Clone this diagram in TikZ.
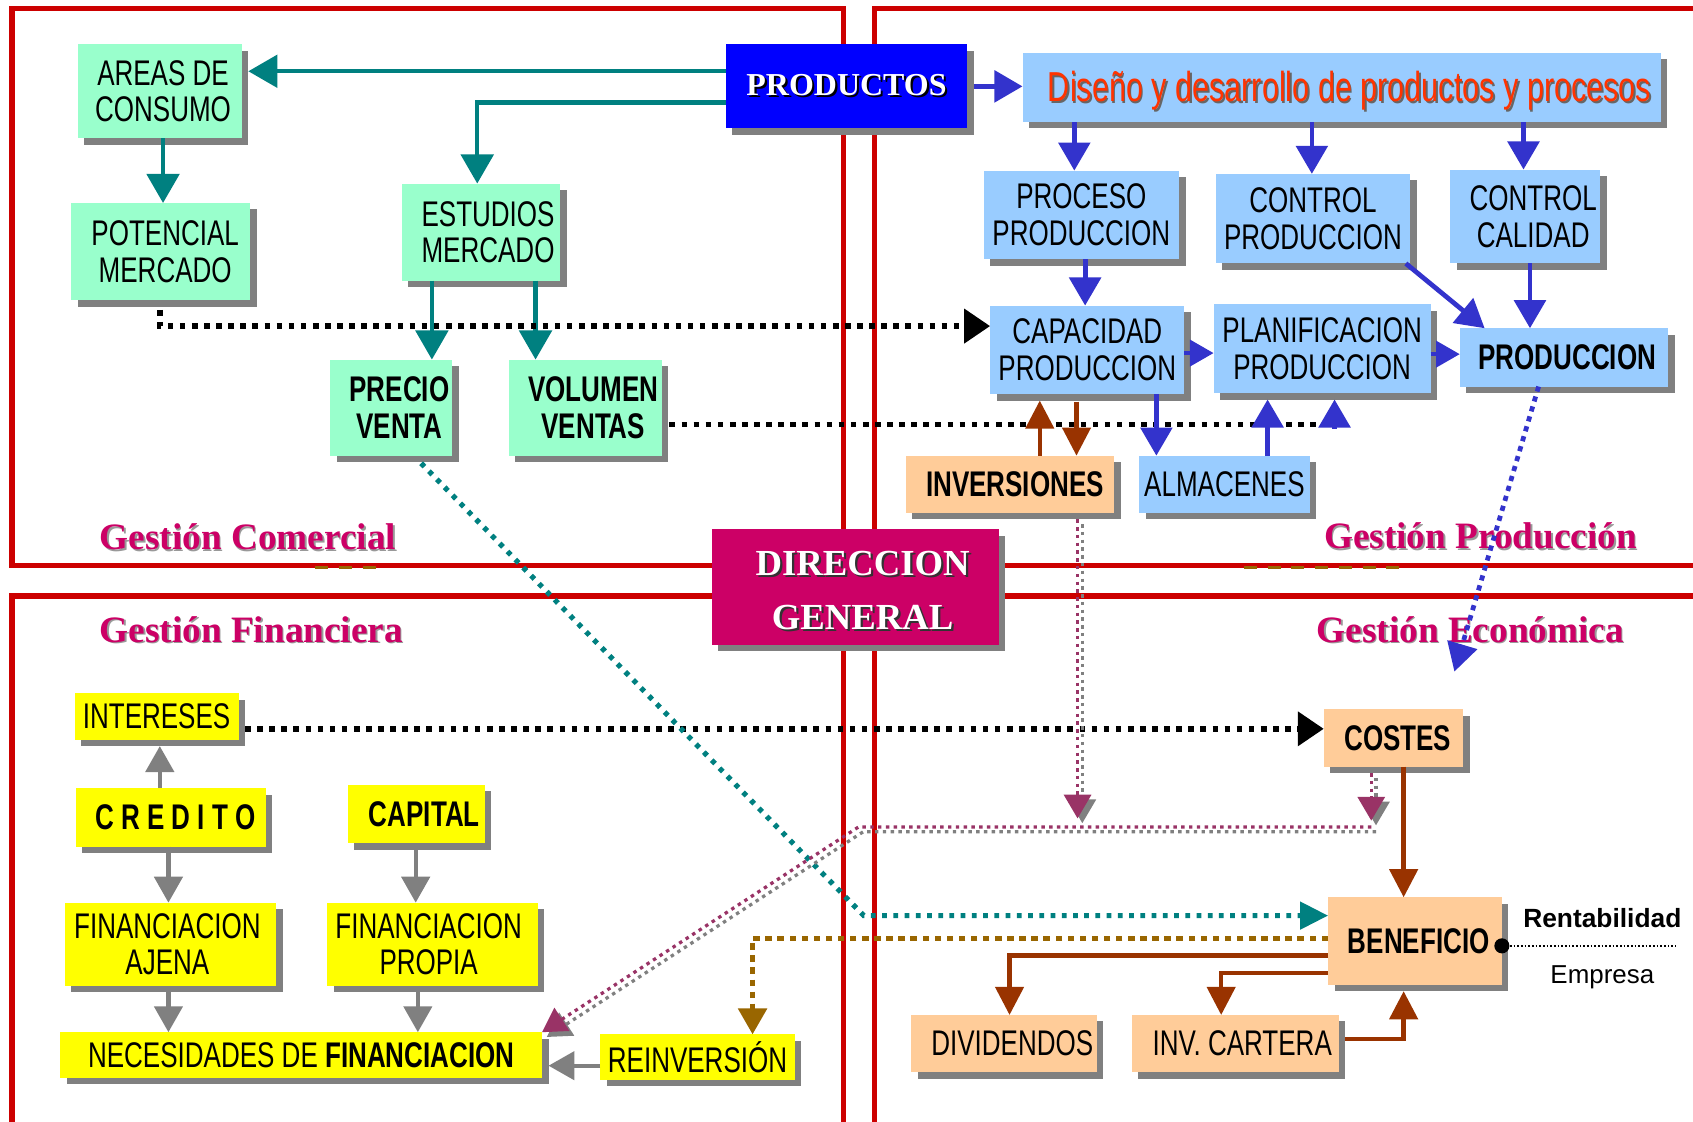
\documentclass[tikz,border=0pt]{standalone}
\usepackage{fontspec}
\setmainfont{Liberation Sans}[FakeStretch=0.73]
\newfontfamily\plainsans{Liberation Sans}
\newfontfamily\titleserif{Liberation Serif}
\usetikzlibrary{arrows.meta,shadows,fit,calc}

\definecolor{framered}{HTML}{CC0000}
\definecolor{mint}{HTML}{99FFCC}
\definecolor{skyblue}{HTML}{99CCFF}
\definecolor{peach}{HTML}{FFCC99}
\definecolor{lemon}{HTML}{FFFF00}
\definecolor{shadowgray}{HTML}{808080}
\definecolor{tealc}{HTML}{008080}
\definecolor{flowblue}{HTML}{3333CC}
\definecolor{rust}{HTML}{993300}
\definecolor{ochre}{HTML}{996600}
\definecolor{plum}{HTML}{993366}
\definecolor{rosered}{HTML}{CC0066}
\definecolor{pureblue}{HTML}{0000FF}
\definecolor{designred}{HTML}{FF3300}

\newcommand\bxfont{\fontsize{16.5}{17}\selectfont}
% text with a small offset shadow underneath
\newcommand\shadowed[3][0.8pt]{\leavevmode\rlap{\kern#1\raisebox{-#1}{\textcolor{#2}{#3}}}#3}
% box spanning two corners, with its text placed (and nudged) separately
\newcommand\mkbox[6][0pt]{%
  \node[#2, fit={#4 #5}] (#3) {};
  \node[boxtext] (#3-text) at ([xshift=#1]#3.center) {#6};}

\tikzset{
  x=0.5pt, y=-0.5pt,
  box/.style={inner sep=0pt, outer sep=0pt,
    drop shadow={opacity=1, fill=shadowgray, shadow xshift=3pt, shadow yshift=-3pt}},
  greenbox/.style={box, fill=mint},
  bluebox/.style={box, fill=skyblue},
  peachbox/.style={box, fill=peach},
  yellowbox/.style={box, fill=lemon},
  boxtext/.style={inner sep=0pt, align=center, font=\bxfont, text=black},
  seclabel/.style={inner sep=0pt, anchor=base west, text=rosered,
    font=\titleserif\bfseries\fontsize{17.25}{20}\selectfont},
  frame/.style={draw=framered, line width=2.5pt},
  ochredash/.style={draw=ochre, line width=1.5pt, dash pattern=on 6pt off 5pt},
  tealarrow/.style={draw=tealc, line width=2pt, -{Triangle[length=13.5pt,width=15pt]}},
  bluearrow/.style={draw=flowblue, line width=2.2pt, -{Triangle[length=13pt,width=14.5pt]}},
  smallblue/.style={draw=flowblue, line width=2pt, -{Triangle[length=11pt,width=12pt]}},
  grayarrow/.style={draw=shadowgray, line width=2pt, -{Triangle[length=12pt,width=13pt]}},
  rustarrow/.style={draw=rust, line width=2pt, -{Triangle[length=13pt,width=13pt]}},
  blackdots/.style={draw=black, line width=2.6pt, dash pattern=on 2.6pt off 3pt},
  blackdotarrow/.style={blackdots, -{Triangle[length=12pt,width=15.5pt]}},
  tealdots/.style={draw=tealc, line width=2.4pt, dash pattern=on 2.2pt off 3pt,
    -{Triangle[length=13pt,width=12.5pt]}},
  ochredots/.style={draw=ochre, line width=2.4pt, dash pattern=on 3pt off 2.6pt,
    -{Triangle[length=12pt,width=13pt]}},
  bluedots/.style={draw=flowblue, line width=2.2pt, dash pattern=on 2.4pt off 2.4pt,
    -{Triangle[length=13pt,width=14pt]}},
  plumdots/.style={draw=plum, line width=1.5pt, dash pattern=on 1.6pt off 2pt,
    -{Triangle[length=11pt,width=12.5pt]},
    preaction={draw=shadowgray, line width=1.5pt, dash pattern=on 1.6pt off 2pt,
      transform canvas={shift={(2.2pt,-2.2pt)}}}},
  thindots/.style={draw=black, line width=0.8pt, dash pattern=on 0.8pt off 0.9pt},
}

\begin{document}
\begin{tikzpicture}
\useasboundingbox (0,0) rectangle (1568,1039);
\fill[white] (0,0) rectangle (1568,1039);

% the four management areas
\begin{scope}
  \clip (0,0) rectangle (1568,1039);
  \draw[frame] (11,8) rectangle (781,524);
  \draw[frame] (810,8) rectangle (1600,524);
  \draw[frame] (11,552) rectangle (781,1070);
  \draw[frame] (810,552) rectangle (1600,1070);
  \draw[ochredash] (292,525.5) -- (352,525.5);
  \draw[ochredash] (1152,525.5) -- (1300,525.5);
\end{scope}

% area titles
\node[seclabel] (lbl-com) at (92,509) {\shadowed[0.7pt]{black!40}{Gestión Comercial}};
\node[seclabel] (lbl-prod) at (1226,508) {\shadowed[0.7pt]{black!40}{Gestión Producción}};
\node[seclabel] (lbl-fin) at (92,595) {\shadowed[0.7pt]{black!40}{Gestión Financiera}};
\node[seclabel] (lbl-eco) at (1219,595) {\shadowed[0.7pt]{black!40}{Gestión Económica}};

% Gestión Comercial
\mkbox[1.5pt]{greenbox}{areas}{(72,41)}{(224,128)}{AREAS DE\\CONSUMO}
\mkbox[2pt]{greenbox}{potencial}{(66,188)}{(232,278)}{POTENCIAL\\MERCADO}
\mkbox[3.25pt]{greenbox}{estudios}{(372,170)}{(519,260)}{ESTUDIOS\\MERCADO}
\mkbox[3.75pt]{greenbox}{precio}{(306,333)}{(419,422)}{\textbf{PRECIO}\\\textbf{VENTA}}
\mkbox[3.75pt]{greenbox}{volumen}{(471,333)}{(613,422)}{\textbf{VOLUMEN}\\\textbf{VENTAS}}

% products and Gestión Producción
\node[box, fill=pureblue, fit={(672,41) (896,119)}] (prod) {};
\node[inner sep=0pt, text=white, font=\titleserif\bfseries\fontsize{14.8}{17}\selectfont]
  (prod-text) at (prod.center) {\shadowed[1pt]{black}{PRODUCTOS}};
\node[bluebox, fit={(947,49) (1538,113)}] (diseno) {};
\node[inner sep=0pt, anchor=base, text=designred, font=\fontsize{19.4}{21}\selectfont]
  (diseno-text) at (1250,94) {\shadowed{black!60}{Diseño y desarrollo de productos y procesos}};
\mkbox{bluebox}{proceso}{(911,158)}{(1092,240)}{PROCESO\\PRODUCCION}
\mkbox{bluebox}{ctrlprod}{(1126,161)}{(1306,244)}{CONTROL\\PRODUCCION}
\mkbox[3.75pt]{bluebox}{ctrlcal}{(1343,157)}{(1482,244)}{CONTROL\\CALIDAD}
\mkbox{bluebox}{capacidad}{(917,283)}{(1097,365)}{CAPACIDAD\\PRODUCCION}
\mkbox{bluebox}{planif}{(1124,282)}{(1325,364)}{PLANIFICACION\\PRODUCCION}
\mkbox[1.5pt]{bluebox}{produccion}{(1352,304)}{(1545,358)}{\textbf{PRODUCCION}}
\mkbox[2.25pt]{peachbox}{inversiones}{(839,422)}{(1032,475)}{\textbf{INVERSIONES}}
\mkbox{bluebox}{almacenes}{(1055,422)}{(1213,475)}{ALMACENES}

% general management
\node[box, fill=rosered, fit={(659,490) (925,597)}] (direccion) {};
\node[inner sep=0pt, align=center, text=white, font=\titleserif\bfseries\fontsize{17}{25}\selectfont]
  (direccion-text) at ([xshift=3.5pt,yshift=-2pt]direccion.center)
  {\shadowed[1pt]{black!80}{DIRECCION}\\\shadowed[1pt]{black!80}{GENERAL}};

% Gestión Financiera
\mkbox{yellowbox}{intereses}{(69,642)}{(221,685)}{INTERESES}
\mkbox[2.25pt]{yellowbox}{credito}{(70,730)}{(246,784)}{\textbf{C R E D I T O}}
\mkbox[3.75pt]{yellowbox}{capital}{(322,727)}{(449,781)}{\textbf{CAPITAL}}
\mkbox[-1.5pt]{yellowbox}{fajena}{(60,836)}{(256,913)}{FINANCIACION\\AJENA}
\mkbox[-1.75pt]{yellowbox}{fpropia}{(303,836)}{(498,913)}{FINANCIACION\\PROPIA}
\mkbox{yellowbox}{necesidades}{(56,956)}{(502,998)}{NECESIDADES DE \textbf{FINANCIACION}}
\mkbox{yellowbox}{reinversion}{(556,958)}{(736,1000)}{REINVERSIÓN}

% Gestión Económica
\mkbox[2pt]{peachbox}{costes}{(1226,657)}{(1355,710)}{\textbf{COSTES}}
\mkbox[1.75pt]{peachbox}{beneficio}{(1230,831)}{(1391,912)}{\textbf{BENEFICIO}}
\mkbox[3.75pt]{peachbox}{dividendos}{(844,940)}{(1016,993)}{DIVIDENDOS}
\mkbox[3.25pt]{peachbox}{invcartera}{(1048,940)}{(1240,993)}{INV. CARTERA}

\node[inner sep=0pt, anchor=base, font=\plainsans\bfseries\fontsize{12.2}{14}\selectfont]
  (rent) at (1484,859) {Rentabilidad};
\node[inner sep=0pt, anchor=base, font=\plainsans\fontsize{12}{14}\selectfont]
  (empresa) at (1484,911) {Empresa};
\node[circle, fill=black, inner sep=0pt, minimum size=7pt] (dot) at (beneficio.east |- 0,876) {};
\coordinate (rentend) at (1552,876);
\draw[thindots] (dot.east) -- (rentend);

% commercial flows
\draw[tealarrow, shorten >=3pt] (prod.west |- 0,66) -- (areas.east |- 0,66);
\draw[tealarrow] (prod.west |- 0,95) -| (estudios.north -| 442,0);
\draw[tealarrow] (areas.south -| 151,0) -- (potencial.north -| 151,0);
\draw[tealarrow] (estudios.south -| 400,0) -- (precio.north -| 400,0);
\draw[tealarrow] (estudios.south -| 496,0) -- (volumen.north -| 496,0);
\draw[blackdotarrow] ($(potencial.south -| 148,0)+(0,9)$) |- (capacidad.west |- 0,302);
\coordinate (vvend) at (1222,393);
\coordinate (vvtip) at (1236,397);
\draw[blackdots] ($(volumen.east |- 0,393)+(7,0)$) -- (vvend);
\draw[bluearrow, shorten >=3pt] (vvtip) -- (vvtip |- planif.south);

% production flows
\draw[bluearrow, shorten <=3pt] (prod.east |- 0,80) -- (diseno.west |- 0,80);
\draw[bluearrow] (diseno.south -| 995,0) -- (proceso.north -| 995,0);
\draw[bluearrow] (diseno.south -| 1215,0) -- (ctrlprod.north -| 1215,0);
\draw[bluearrow] (diseno.south -| 1411,0) -- (ctrlcal.north -| 1411,0);
\draw[bluearrow] (proceso.south -| 1005,0) -- (capacidad.north -| 1005,0);
\draw[bluearrow] ($(ctrlprod.south east)+(-4,0)$) -- (produccion.north west -| 1375,0);
\draw[bluearrow] (ctrlcal.south -| 1417,0) -- (produccion.north -| 1417,0);
\draw[smallblue] (capacidad.east |- 0,327) -- (planif.west |- 0,327);
\draw[smallblue] (planif.east |- 0,328) -- (produccion.west |- 0,328);
\draw[bluearrow] (capacidad.south -| 1071,0) -- (almacenes.north -| 1071,0);
\draw[bluearrow, shorten >=3pt] (almacenes.north -| 1174,0) -- (planif.south -| 1174,0);
\draw[rustarrow, shorten >=3pt] (inversiones.north -| 963,0) -- (capacidad.south -| 963,0);
\draw[rustarrow] ($(capacidad.south -| 997,0)+(0,7)$) -- (inversiones.north -| 997,0);
\coordinate (ecoend) at (1347,622);
\draw[bluedots] (produccion.south -| 1425,0) -- (ecoend);

% financial flows
\draw[blackdotarrow] ($(intereses.east |- 0,675)+(6,0)$) -- (costes.west |- 0,675);
\draw[grayarrow, shorten >=3pt] (credito.north -| 148,0) -- (intereses.south -| 148,0);
\draw[grayarrow] (credito.south -| 156,0) -- (fajena.north -| 156,0);
\draw[grayarrow] (capital.south -| 385,0) -- (fpropia.north -| 385,0);
\draw[grayarrow] (fajena.south -| 156,0) -- (necesidades.north -| 156,0);
\draw[grayarrow] (fpropia.south -| 387,0) -- (necesidades.north -| 387,0);
\draw[grayarrow, shorten >=3pt] (reinversion.west |- 0,987) -- (necesidades.east |- 0,987);

% economic flows
\draw[rustarrow] (costes.south -| 1300,0) -- (beneficio.north -| 1300,0);
\draw[rustarrow] (beneficio.west |- 0,885) -| (dividendos.north -| 935,0);
\draw[rustarrow] (beneficio.west |- 0,901) -| (invcartera.north -| 1131,0);
\draw[rustarrow, shorten <=3pt, shorten >=3pt] (invcartera.east |- 0,962) -| (beneficio.south -| 1300,0);
\coordinate (tbend) at (800,848);
\draw[tealdots] ($(precio.south -| 390,0)+(0,7)$) -- (tbend) -- (beneficio.west |- 0,848);
\draw[ochredots] (beneficio.west |- 0,869) -| (reinversion.north -| 697,0);
\coordinate (invdrop) at (998,758);
\coordinate (costdrop) at (1270,760);
\coordinate (pj1) at (1270,766);
\coordinate (pj2) at (795,766);
\draw[plumdots] ($(inversiones.south -| invdrop)+(0,6)$) -- (invdrop);
\draw[plumdots] ($(costes.south -| costdrop)+(0,6)$) -- (costdrop);
\draw[plumdots] (pj1) -- (pj2) -- (necesidades.north east);
\end{tikzpicture}
\end{document}
